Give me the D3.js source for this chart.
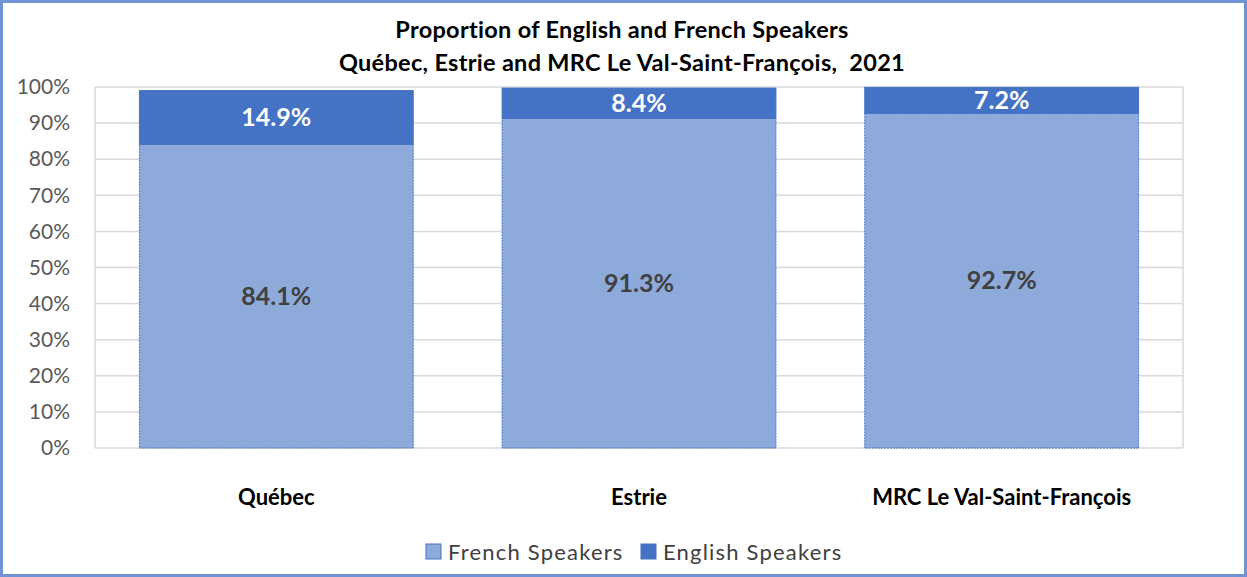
<!DOCTYPE html>
<html><head><meta charset="utf-8">
<script src="https://cdn.jsdelivr.net/npm/d3@7"></script>
<style>body{margin:0;background:#fff;} svg{display:block;font-family:"Lato","Open Sans",sans-serif;}</style>
</head><body>
<svg id="c" width="1247" height="577"></svg>
<script>
const categories = ["Québec", "Estrie", "MRC Le Val-Saint-François"];
const french = [84.1, 91.3, 92.7];
const english = [14.9, 8.4, 7.2];
const yTicks = [0,10,20,30,40,50,60,70,80,90,100];
const seriesNames = ["French Speakers", "English Speakers"];
const colors = ["#8eaadb", "#4472c4"];

const svg = d3.select("#c");
const W = 1247, H = 577;
svg.append("rect").attr("x",1.5).attr("y",1.5).attr("width",W-3).attr("height",H-3)
  .attr("fill","#fff").attr("stroke","#6f93d3").attr("stroke-width",3);

const m = {left:95, right:1183, top:87, bottom:448};
const x = d3.scaleBand().domain(categories).range([m.left, m.right]).paddingInner(0.245).paddingOuter(0.1225);
const y = d3.scaleLinear().domain([0,100]).range([m.bottom, m.top]);

// title
const t = svg.append("text").attr("text-anchor","middle").attr("font-weight","bold").attr("font-size",23.5).attr("fill","#000").attr("letter-spacing",0.3);
t.append("tspan").attr("x",622).attr("y",38).text("Proportion of English and French Speakers");
t.append("tspan").attr("x",622).attr("y",71).attr("xml:space","preserve").text("Québec, Estrie and MRC Le Val-Saint-François,  2021");

// grid
const g = svg.append("g");
g.selectAll("line.grid").data(yTicks).join("line")
  .attr("x1",m.left).attr("x2",m.right).attr("y1",d=>y(d)).attr("y2",d=>y(d))
  .attr("stroke","#d9d9d9").attr("stroke-width",1.5);
[m.left, m.right].forEach(xx=>g.append("line").attr("x1",xx).attr("x2",xx).attr("y1",m.top).attr("y2",m.bottom).attr("stroke","#d9d9d9").attr("stroke-width",1.5));

// y axis
const ya = svg.append("g").attr("transform",`translate(${m.left},0)`)
  .call(d3.axisLeft(y).tickValues(yTicks).tickFormat(d=>d+"%").tickSize(0).tickPadding(25));
ya.select(".domain").remove();
ya.selectAll("text").attr("font-size",21).attr("fill","#595959").attr("font-family","Lato, sans-serif");

// bars
const data = categories.map((c,i)=>({c, f:french[i], e:english[i]}));
const bars = svg.append("g");
bars.selectAll("rect.f").data(data).join("rect")
  .attr("x",d=>x(d.c)).attr("width",x.bandwidth())
  .attr("y",d=>y(d.f)).attr("height",d=>y(0)-y(d.f))
  .attr("fill",colors[0]).attr("stroke","#4472c4").attr("stroke-width",1).attr("stroke-dasharray","2,1");
bars.selectAll("rect.e").data(data).join("rect")
  .attr("x",d=>x(d.c)).attr("width",x.bandwidth())
  .attr("y",d=>y(d.f+d.e)).attr("height",d=>y(d.f)-y(d.f+d.e))
  .attr("fill",colors[1]).attr("stroke","#4472c4").attr("stroke-width",1);

// labels
bars.selectAll("text.f").data(data).join("text")
  .attr("x",d=>x(d.c)+x.bandwidth()/2).attr("y",d=>y(d.f/2)).attr("dy","0.35em")
  .attr("text-anchor","middle").attr("font-size",25).attr("font-weight","bold").attr("fill","#404040")
  .text(d=>d.f.toFixed(1)+"%");
bars.selectAll("text.e").data(data).join("text")
  .attr("x",d=>x(d.c)+x.bandwidth()/2).attr("y",d=>y(d.f+d.e/2)).attr("dy","0.35em")
  .attr("text-anchor","middle").attr("font-size",25).attr("font-weight","bold").attr("fill","#fff")
  .text(d=>d.e.toFixed(1)+"%");

// x axis
const xa = svg.append("g").attr("transform",`translate(0,${m.bottom})`)
  .call(d3.axisBottom(x).tickSize(0).tickPadding(41));
xa.select(".domain").remove();
xa.selectAll("text").attr("font-size",22).attr("font-weight","bold").attr("fill","#000").attr("font-family","Lato, sans-serif");

// legend
const lg = svg.append("g");
const lx = [426, 641];
seriesNames.forEach((n,i)=>{
  lg.append("rect").attr("x",lx[i]).attr("y",544).attr("width",15).attr("height",15)
    .attr("fill",colors[i]).attr("stroke","#4472c4").attr("stroke-width",1);
  lg.append("text").attr("x",lx[i]+22).attr("y",560).attr("font-size",22).attr("fill","#404040")
    .attr("letter-spacing",1.2).text(n);
});
</script>
</body></html>
